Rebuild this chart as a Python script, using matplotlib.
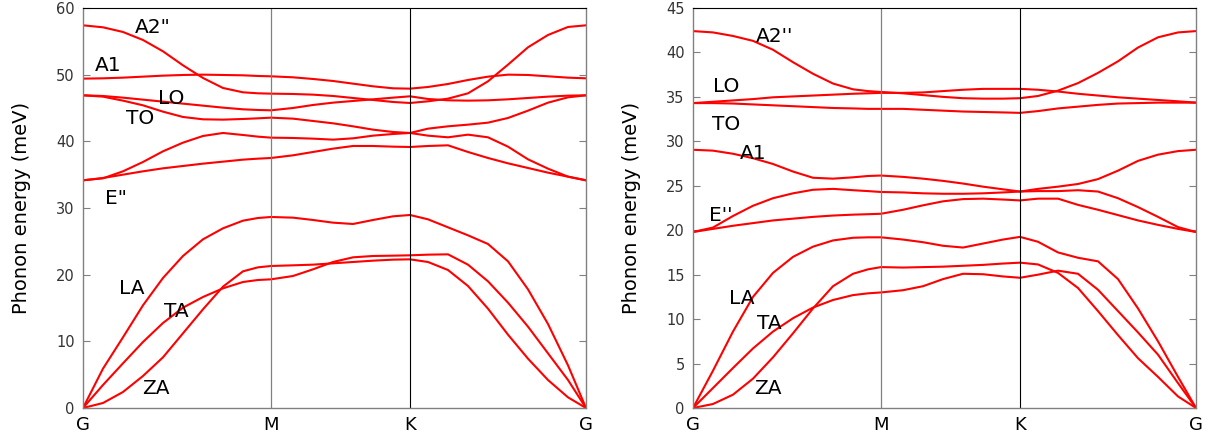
"""
Phonon dispersion along G-M-K-G for two materials (two panels)
"""

import matplotlib
matplotlib.use('Agg')
import matplotlib.pyplot as plt

# path coordinate (pixel-like units along G-M-K-G)
kdist = [0, 20, 40, 60, 80, 100, 120, 140, 160, 175, 188, 210, 230, 250, 270,
         290, 310, 327, 345, 365, 385, 405, 425, 445, 465, 485, 503]
kpoints = [0, 188, 327, 503]
klabels = ['G', 'M', 'K', 'G']

# ---- left panel (meV) ----
left_A2 = [57.4, 57.1, 56.4, 55.2, 53.5, 51.4, 49.5, 48.0, 47.35, 47.2, 47.15, 47.1, 47.0, 46.8, 46.5,
           46.2, 45.9, 45.75, 46.0, 46.4, 47.2, 49.0, 51.5, 54.1, 55.95, 57.15, 57.4]
left_A1 = [49.4, 49.45, 49.55, 49.7, 49.85, 49.95, 50.0, 49.95, 49.9, 49.8, 49.75, 49.6, 49.35, 49.05, 48.65,
           48.25, 47.95, 47.9, 48.15, 48.6, 49.2, 49.7, 50.0, 49.95, 49.75, 49.55, 49.45]
left_LO = [46.9, 46.8, 46.55, 46.25, 45.95, 45.65, 45.35, 45.05, 44.8, 44.7, 44.65, 45.0, 45.45, 45.8, 46.05,
           46.3, 46.55, 46.75, 46.35, 46.15, 46.1, 46.15, 46.3, 46.5, 46.7, 46.85, 46.9]
left_TO = [46.9, 46.7, 46.1, 45.4, 44.45, 43.65, 43.3, 43.25, 43.35, 43.45, 43.55, 43.4, 43.05, 42.7, 42.25,
           41.75, 41.4, 41.25, 41.9, 42.25, 42.5, 42.8, 43.5, 44.6, 45.8, 46.6, 46.9]
left_Ea = [34.15, 34.45, 35.5, 36.9, 38.5, 39.8, 40.8, 41.25, 40.95, 40.7, 40.55, 40.5, 40.4, 40.25, 40.45,
           40.85, 41.1, 41.25, 40.85, 40.6, 41.0, 40.6, 39.2, 37.3, 35.9, 34.7, 34.15]
left_Eb = [34.15, 34.5, 35.0, 35.5, 35.95, 36.3, 36.65, 36.95, 37.25, 37.4, 37.5, 37.9, 38.4, 38.9, 39.3,
           39.3, 39.2, 39.15, 39.3, 39.4, 38.4, 37.5, 36.7, 36.0, 35.3, 34.7, 34.15]
left_LA = [0, 5.9, 10.6, 15.4, 19.5, 22.8, 25.3, 26.95, 28.1, 28.5, 28.65, 28.55, 28.2, 27.8, 27.6,
           28.2, 28.75, 28.95, 28.3, 27.1, 25.9, 24.6, 22.0, 17.8, 12.6, 6.4, 0]
left_TA = [0, 3.45, 6.7, 9.9, 12.75, 15.05, 16.65, 17.95, 18.9, 19.2, 19.3, 19.8, 20.8, 21.9, 22.6,
           22.8, 22.85, 22.9, 23.0, 23.05, 21.5, 19.0, 15.8, 12.2, 8.2, 4.2, 0]
left_ZA = [0, 0.75, 2.4, 4.8, 7.6, 11.2, 14.8, 18.2, 20.5, 21.1, 21.3, 21.4, 21.5, 21.7, 21.9,
           22.1, 22.25, 22.3, 21.9, 20.7, 18.3, 14.9, 11.0, 7.4, 4.2, 1.6, 0]

# ---- right panel (meV) ----
right_A2 = [42.4, 42.25, 41.85, 41.3, 40.3, 38.9, 37.6, 36.5, 35.85, 35.65, 35.55, 35.4, 35.2, 35.0, 34.85,
            34.8, 34.8, 34.85, 35.1, 35.7, 36.55, 37.7, 39.0, 40.55, 41.7, 42.25, 42.4]
right_LO = [34.3, 34.45, 34.6, 34.75, 34.95, 35.05, 35.15, 35.25, 35.35, 35.4, 35.45, 35.45, 35.5, 35.65, 35.8,
            35.9, 35.9, 35.9, 35.8, 35.6, 35.35, 35.15, 34.95, 34.8, 34.65, 34.5, 34.35]
right_TO = [34.3, 34.3, 34.25, 34.15, 34.05, 33.95, 33.85, 33.75, 33.7, 33.65, 33.65, 33.65, 33.55, 33.45, 33.35,
            33.3, 33.25, 33.2, 33.4, 33.7, 33.9, 34.1, 34.25, 34.3, 34.35, 34.35, 34.35]
right_A1 = [29.05, 28.95, 28.6, 28.1, 27.45, 26.6, 25.9, 25.8, 25.95, 26.1, 26.15, 26.0, 25.8, 25.55, 25.25,
            24.9, 24.6, 24.35, 24.65, 24.9, 25.2, 25.75, 26.7, 27.8, 28.5, 28.9, 29.05]
right_Ea = [19.8, 20.3, 21.6, 22.75, 23.6, 24.15, 24.55, 24.65, 24.5, 24.4, 24.3, 24.25, 24.15, 24.1, 24.1,
            24.15, 24.25, 24.35, 24.4, 24.4, 24.5, 24.35, 23.6, 22.6, 21.5, 20.35, 19.8]
right_Eb = [19.8, 20.15, 20.5, 20.8, 21.1, 21.3, 21.5, 21.65, 21.75, 21.8, 21.85, 22.3, 22.8, 23.25, 23.5,
            23.55, 23.45, 23.35, 23.55, 23.55, 22.85, 22.3, 21.7, 21.1, 20.6, 20.15, 19.8]
right_LA = [0, 4.2, 8.6, 12.5, 15.2, 17.0, 18.15, 18.85, 19.15, 19.2, 19.2, 18.95, 18.65, 18.25, 18.05,
            18.5, 18.95, 19.25, 18.7, 17.5, 16.9, 16.5, 14.5, 11.2, 7.5, 3.5, 0]
right_TA = [0, 2.25, 4.5, 6.7, 8.6, 10.1, 11.3, 12.15, 12.7, 12.9, 13.0, 13.25, 13.7, 14.5, 15.1,
            15.05, 14.8, 14.65, 15.0, 15.45, 15.1, 13.3, 10.9, 8.5, 6.0, 2.8, 0]
right_ZA = [0, 0.45, 1.5, 3.3, 5.7, 8.4, 11.2, 13.7, 15.1, 15.6, 15.85, 15.8, 15.85, 15.9, 16.0,
            16.1, 16.25, 16.35, 16.15, 15.2, 13.5, 10.9, 8.2, 5.6, 3.5, 1.3, 0]

# mode labels: (text, k position, energy)
left_labels = [('A2"', 70, 57.0), ('A1', 25, 51.4), ('LO', 88, 46.4), ('TO', 57, 43.4),
               ('E"', 33, 31.4), ('LA', 49, 17.9), ('TA', 93, 14.5), ('ZA', 73, 2.9)]
right_labels = [('A2\'\'', 82, 41.8), ('LO', 33, 36.2), ('TO', 33, 31.9), ('A1', 60, 28.6),
                ('E\'\'', 28, 21.7), ('LA', 49, 12.3), ('TA', 76, 9.5), ('ZA', 75, 2.2)]

GRAY = '#808080'


def draw_panel(ax, bands, labels, ymax, ystep):
    for band in bands:
        ax.plot(kdist, band, color='#ff0000', linewidth=1.5, solid_joinstyle='round')

    ax.axvline(kpoints[1], color=GRAY, linewidth=0.9)
    ax.axvline(kpoints[2], color='black', linewidth=0.8)

    for text, kx, e in labels:
        ax.text(kx, e, text, fontsize=14.5, ha='center', va='center', color='black')

    ax.set_xlim(0, kpoints[-1])
    ax.set_ylim(0, ymax)
    ax.set_xticks(kpoints)
    ax.set_xticklabels(klabels, fontsize=13)
    ax.set_yticks(range(0, ymax + 1, ystep))
    ax.tick_params(axis='x', length=0, pad=6)
    ax.tick_params(axis='y', direction='in', length=5, width=0.8, colors=GRAY,
                   labelcolor='#333333', labelsize=10.5, right=True, pad=6)
    ax.set_ylabel('Phonon energy (meV)', fontsize=14, labelpad=18)

    for side in ['left', 'bottom', 'right']:
        ax.spines[side].set_color(GRAY)
        ax.spines[side].set_linewidth(1.0)
    ax.spines['top'].set_color('black')
    ax.spines['top'].set_linewidth(0.8)


fig = plt.figure(figsize=(12.13, 4.43), dpi=100)
ax1 = fig.add_axes([0.0684, 0.079, 0.4147, 0.903])
ax2 = fig.add_axes([0.5713, 0.079, 0.4147, 0.903])

draw_panel(ax1, [left_A2, left_A1, left_LO, left_TO, left_Ea, left_Eb, left_LA, left_TA, left_ZA],
           left_labels, 60, 10)
draw_panel(ax2, [right_A2, right_LO, right_TO, right_A1, right_Ea, right_Eb, right_LA, right_TA, right_ZA],
           right_labels, 45, 5)

plt.savefig('out.png', dpi=100)
